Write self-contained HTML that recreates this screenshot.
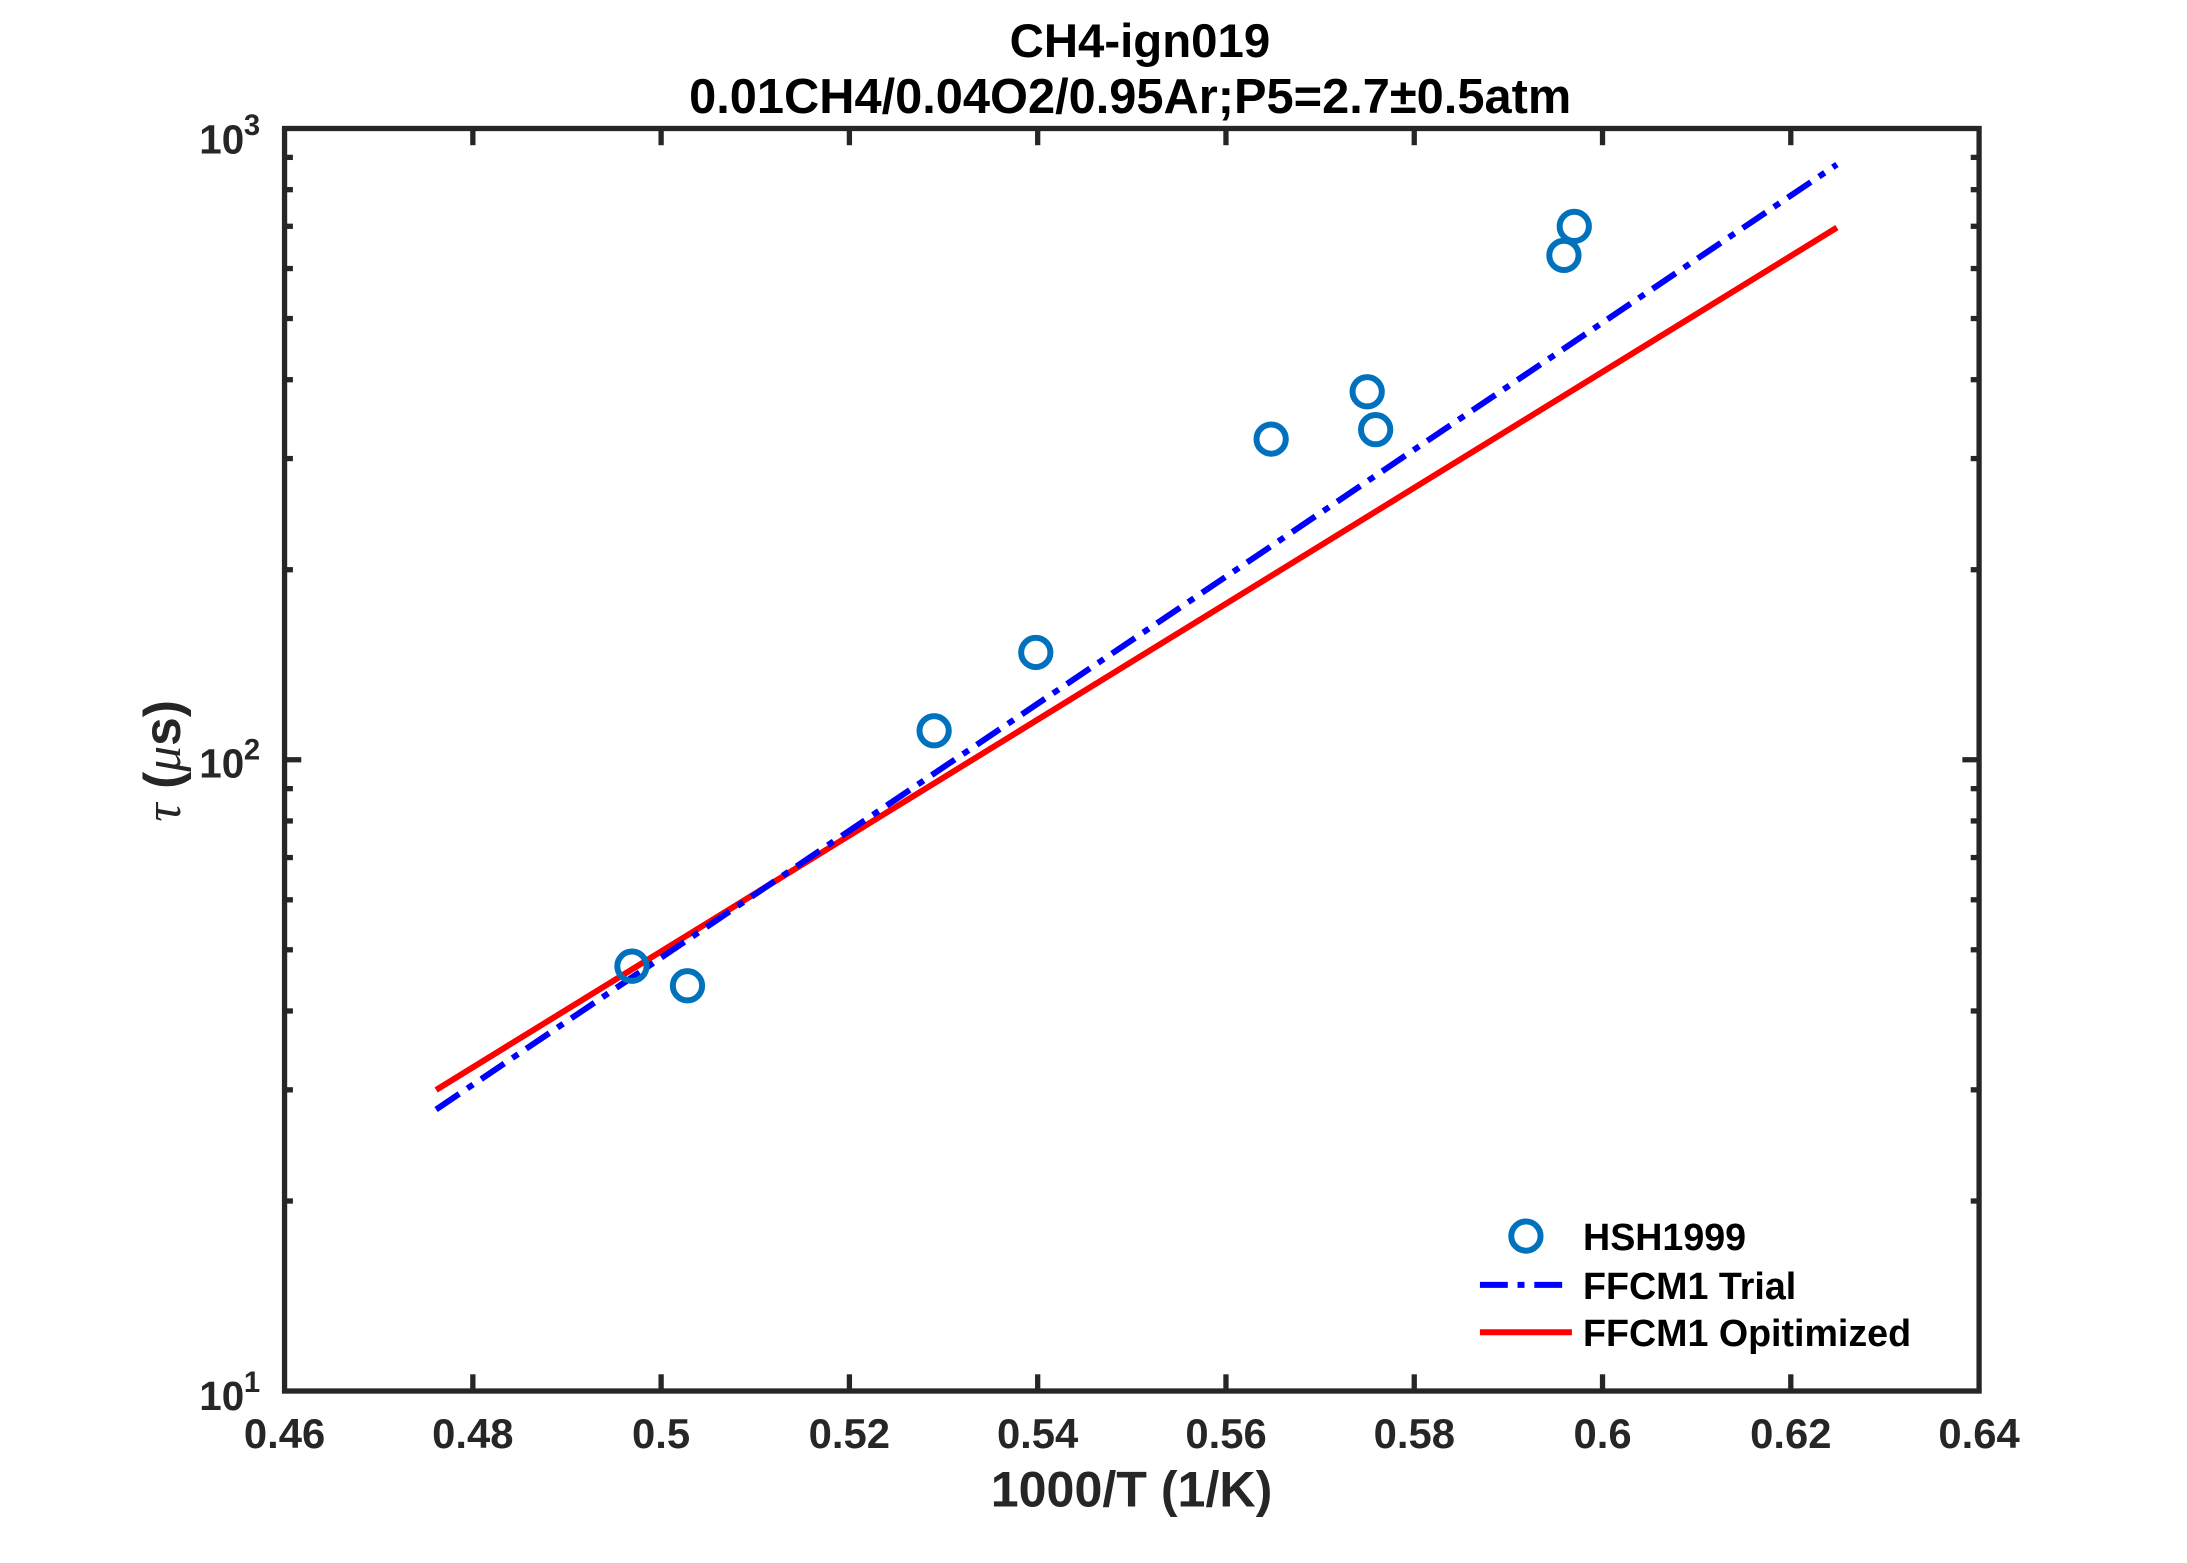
<!DOCTYPE html>
<html><head><meta charset="utf-8"><style>html,body{margin:0;padding:0;background:#fff}svg{display:block}</style></head>
<body>
<svg width="2187" height="1563" viewBox="0 0 1569.4 1121.6" xmlns="http://www.w3.org/2000/svg" font-family="Liberation Sans, Arial, sans-serif" font-weight="bold">
<rect width="1569.4" height="1121.6" fill="#fff"/>
<g stroke="#262626" stroke-width="3.8" fill="none" id="ticks"></g>
<g id="plot"></g>
<script>
<![CDATA[
(function(){
var NS="http://www.w3.org/2000/svg";
var L=204.2,R=1420.2,T=92.2,B=998.2;
function X(x){return L+(x-0.46)/0.18*(R-L);}
function Y(v){return B-(Math.log10(v)-1)/2*(B-T);}
var g=document.getElementById('ticks');
function ln(x1,y1,x2,y2,p,attrs){var e=document.createElementNS(NS,'line');e.setAttribute('x1',x1);e.setAttribute('y1',y1);e.setAttribute('x2',x2);e.setAttribute('y2',y2);if(attrs)for(var k in attrs)e.setAttribute(k,attrs[k]);(p||g).appendChild(e);return e;}
for(var i=1;i<9;i++){var x=X(0.46+i*0.02);ln(x,B,x,B-12);ln(x,T,x,T+12);}
for(var k=1;k<3;k++){for(var m=1;m<10;m++){var v=m*Math.pow(10,k);var y=Y(v);if(m==1&&k==1)continue;var len=(m==1)?12:6;ln(L,y,L+len,y);ln(R,y,R-len,y);}}
var r=document.createElementNS(NS,'rect');r.setAttribute('x',L);r.setAttribute('y',T);r.setAttribute('width',R-L);r.setAttribute('height',B-T);g.appendChild(r);
var p=document.getElementById('plot');
ln(X(0.4761),Y(Math.pow(10,1.477)),X(0.6249),Y(Math.pow(10,2.843)),p,{stroke:'#ff0000','stroke-width':4.3});
ln(X(0.4761),Y(Math.pow(10,1.446)),X(0.6249),Y(Math.pow(10,2.943)),p,{stroke:'#0000ff','stroke-width':4.3,'stroke-dasharray':'20,7,5,7'});
var pts=[[0.4969,1.673],[0.5028,1.642],[0.529,2.046],[0.5398,2.170],[0.5648,2.508],[0.575,2.583],[0.5759,2.523],[0.5959,2.799],[0.597,2.845]];
pts.forEach(function(q){var c=document.createElementNS(NS,'circle');c.setAttribute('cx',X(q[0]));c.setAttribute('cy',Y(Math.pow(10,q[1])));c.setAttribute('r',10.5);c.setAttribute('fill','none');c.setAttribute('stroke','#0072BD');c.setAttribute('stroke-width',4.3);p.appendChild(c);});
})();
]]>
</script>
<g fill="#262626" font-size="30" text-anchor="middle">
<text x="204.2" y="1039">0.46</text>
<text x="339.3" y="1039">0.48</text>
<text x="474.4" y="1039">0.5</text>
<text x="609.5" y="1039">0.52</text>
<text x="744.6" y="1039">0.54</text>
<text x="879.8" y="1039">0.56</text>
<text x="1014.9" y="1039">0.58</text>
<text x="1150" y="1039">0.6</text>
<text x="1285.1" y="1039">0.62</text>
<text x="1420.2" y="1039">0.64</text>
</g>
<g fill="#262626" font-size="29">
<text x="143" y="110">10</text><text x="175" y="97" font-size="21">3</text>
<text x="143" y="558">10</text><text x="175" y="545" font-size="21">2</text>
<text x="143" y="1012">10</text><text x="175" y="999" font-size="21">1</text>
</g>
<text x="812" y="1081" fill="#262626" font-size="36" text-anchor="middle">1000/T (1/K)</text>
<text transform="translate(129,546) rotate(-90)" fill="#262626" font-size="37" text-anchor="middle"><tspan font-family="Liberation Serif, serif" font-style="italic" font-weight="normal">τ</tspan> (<tspan font-family="Liberation Serif, serif" font-style="italic" font-weight="normal">μ</tspan>s)</text>
<g fill="#000" font-size="34" text-anchor="middle">
<text x="818" y="41">CH4-ign019</text>
<text x="811" y="81" font-size="35">0.01CH4/0.04O2/0.95Ar;P5=2.7±0.5atm</text>
</g>
<circle cx="1095" cy="887" r="10.5" fill="none" stroke="#0072BD" stroke-width="4.3"/>
<line x1="1062" y1="922" x2="1128" y2="922" stroke="#0000ff" stroke-width="4.3" stroke-dasharray="20,7,5,7"/>
<line x1="1062" y1="956" x2="1128" y2="956" stroke="#ff0000" stroke-width="4.3"/>
<g fill="#000" font-size="27">
<text x="1136" y="897">HSH1999</text>
<text x="1136" y="932">FFCM1 Trial</text>
<text x="1136" y="966">FFCM1 Opitimized</text>
</g>
</svg>
</body></html>
